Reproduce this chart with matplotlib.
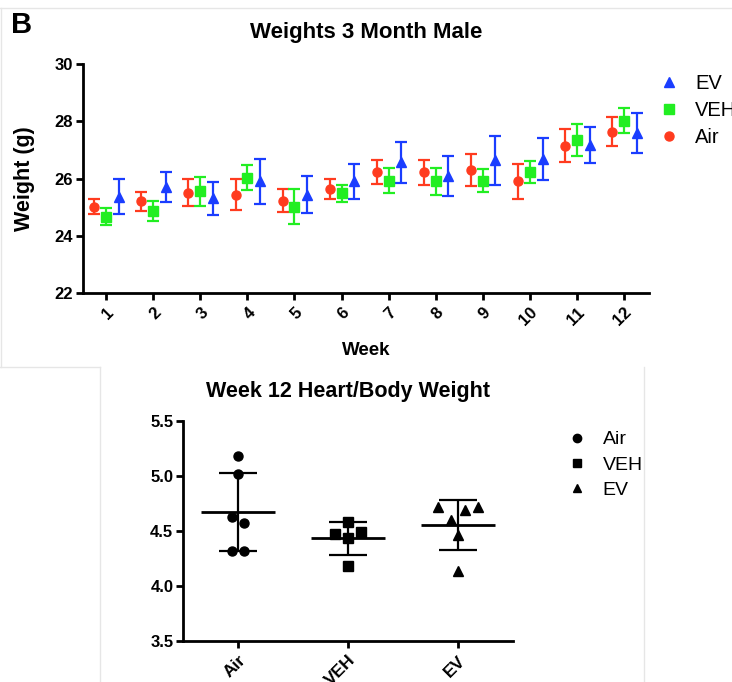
#!/usr/bin/env python3
# -*- coding: utf-8 -*-
"""
weights 3 month male + week 12 heart/body weight
"""
import numpy as np
import matplotlib
matplotlib.use('Agg')
import matplotlib.pyplot as plt
from matplotlib.lines import Line2D

plt.rcParams['font.family'] = ['Liberation Sans', 'DejaVu Sans']

#%% data
weeks = np.arange(1, 13)

air_mean = [25.02, 25.20, 25.51, 25.43, 25.22, 25.64, 26.22, 26.21, 26.30, 25.90, 27.15, 27.64]
air_err  = [0.26, 0.34, 0.47, 0.54, 0.40, 0.35, 0.42, 0.42, 0.55, 0.62, 0.59, 0.50]
veh_mean = [24.67, 24.87, 25.55, 26.03, 25.02, 25.49, 25.93, 25.90, 25.93, 26.24, 27.35, 28.02]
veh_err  = [0.30, 0.35, 0.51, 0.43, 0.60, 0.30, 0.43, 0.46, 0.40, 0.38, 0.56, 0.43]
ev_mean  = [25.37, 25.69, 25.31, 25.90, 25.43, 25.90, 26.56, 26.09, 26.63, 26.67, 27.17, 27.58]
ev_err   = [0.60, 0.52, 0.58, 0.78, 0.64, 0.60, 0.72, 0.69, 0.87, 0.73, 0.63, 0.70]

groups = ['Air', 'VEH', 'EV']
air_ratio = [5.18, 5.02, 4.63, 4.57, 4.32, 4.32]
veh_ratio = [4.58, 4.47, 4.49, 4.44, 4.18]
ev_ratio  = [4.72, 4.69, 4.72, 4.60, 4.46, 4.14]
# horizontal scatter of the points inside each column
air_jit = [0.0, 0.0, -0.055, 0.055, -0.055, 0.055]
veh_jit = [0.0, -0.12, 0.12, 0.0, 0.0]
ev_jit  = [-0.18, 0.06, 0.18, -0.06, 0.0, 0.0]

red = '#ff3b1f'
green = '#22ee22'
blue = '#1a3dff'

W, H = 732, 682
fig = plt.figure(figsize=(W/100, H/100), dpi=100)

def px_axes(l, t, r, b):
    return fig.add_axes([l/W, 1-b/H, (r-l)/W, (b-t)/H])

def style(ax, size=12):
    for s in ['top', 'right']:
        ax.spines[s].set_visible(False)
    for s in ['left', 'bottom']:
        ax.spines[s].set_linewidth(2)
    ax.tick_params(width=2, length=5, labelsize=size)
    for lab in ax.get_xticklabels() + ax.get_yticklabels():
        lab.set_fontweight('bold')

#%% top panel
ax1 = px_axes(83, 64, 649, 293)
ekw = dict(capsize=4, elinewidth=1.6, capthick=1.6, markersize=6.5, linestyle='none')
ax1.errorbar(weeks-0.25, air_mean, yerr=air_err, fmt='o', color=red, **ekw)
ax1.errorbar(weeks, veh_mean, yerr=veh_err, fmt='s', color=green, **ekw)
ax1.errorbar(weeks+0.27, ev_mean, yerr=ev_err, fmt='^', color=blue, **ekw)
ax1.set_xlim(0.51, 12.53)
ax1.set_ylim(22, 30)
ax1.set_yticks([22, 24, 26, 28, 30])
ax1.set_xticks(weeks)
ax1.set_xticklabels([str(w) for w in weeks], rotation=45, ha='right', va='top',
                    rotation_mode='anchor')
style(ax1)
ax1.tick_params(axis='y', pad=2)
ax1.set_xlabel('Week', fontsize=13.5, fontweight='bold', labelpad=10)
ax1.set_ylabel('Weight (g)', fontsize=15.5, fontweight='bold', labelpad=14)
ax1.set_title('Weights 3 Month Male', fontsize=16, fontweight='bold', pad=19)

h1 = [Line2D([], [], marker='^', color=blue, ls='none', markersize=6.5),
      Line2D([], [], marker='s', color=green, ls='none', markersize=6.5),
      Line2D([], [], marker='o', color=red, ls='none', markersize=6.5)]
ax1.legend(h1, ['EV', 'VEH', 'Air'], loc='upper left', bbox_to_anchor=(649/W, 1-64/H),
           bbox_transform=fig.transFigure, frameon=False, fontsize=14.5,
           handlelength=1.0, handletextpad=0.8, labelspacing=0.4, borderpad=0)

#%% bottom panel
ax2 = px_axes(183, 421, 513, 641)
for i, (vals, jit, mk) in enumerate(zip([air_ratio, veh_ratio, ev_ratio],
                                        [air_jit, veh_jit, ev_jit], ['o', 's', '^'])):
    vals = np.array(vals)
    ax2.plot(i + np.array(jit), vals, mk, color='k', markersize=6.5)
    m, sd = vals.mean(), vals.std(ddof=1)
    ax2.hlines(m, i-0.34, i+0.34, color='k', lw=2)
    ax2.errorbar(i, m, yerr=sd, fmt='none', ecolor='k', capsize=13.5,
                 elinewidth=1.6, capthick=1.6)
ax2.set_xlim(-0.5, 2.5)
ax2.set_ylim(3.5, 5.5)
ax2.set_yticks([3.5, 4.0, 4.5, 5.0, 5.5])
ax2.set_yticklabels(['3.5', '4.0', '4.5', '5.0', '5.5'])
ax2.set_xticks(range(3))
ax2.set_xticklabels(groups, rotation=45, ha='right', va='top', rotation_mode='anchor')
style(ax2)
ax2.tick_params(axis='y', pad=2)
ax2.tick_params(axis='x', labelsize=12.5)
ax2.set_title('Week 12 Heart/Body Weight', fontsize=15.5, fontweight='bold', pad=17)

h2 = [Line2D([], [], marker=m, color='k', ls='none', markersize=6) for m in ['o', 's', '^']]
ax2.legend(h2, groups, loc='upper left', bbox_to_anchor=(558/W, 1-421/H),
           bbox_transform=fig.transFigure, frameon=False, fontsize=14,
           handlelength=1.0, handletextpad=0.8, labelspacing=0.4, borderpad=0)

#%% panel letter and faint frame lines
fig.text(11/W, 1-33/H, 'B', fontsize=21, fontweight='bold')
fc = '#e6e6e6'
for xs, ys in [([0, W], [8, 8]), ([1, 1], [8, 367]), ([0, 100], [367, 367]),
               ([100, 100], [367, H]), ([644, 644], [367, H])]:
    fig.add_artist(Line2D([x/W for x in xs], [1-y/H for y in ys], color=fc, lw=1))

plt.savefig('out.png', dpi=100)
